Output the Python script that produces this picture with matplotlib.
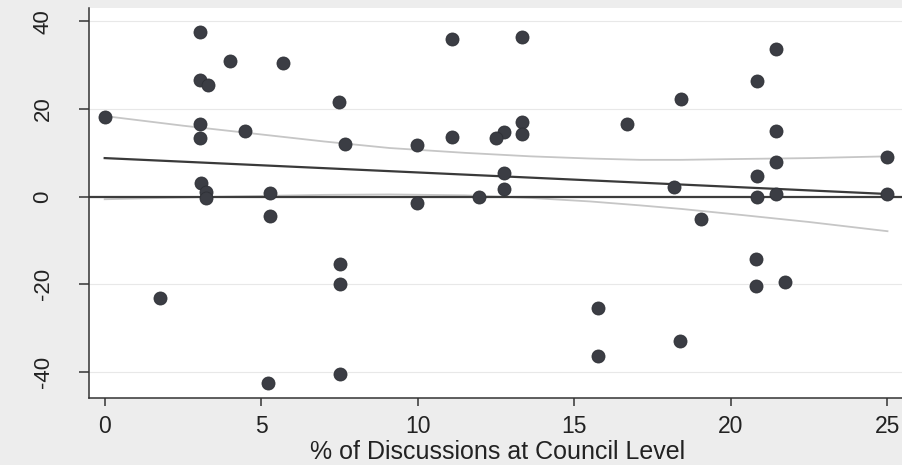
import numpy as np
import matplotlib.pyplot as plt

plt.rcParams['font.family'] = ['Liberation Sans', 'DejaVu Sans']
plt.rcParams['axes.unicode_minus'] = False

# scatter points
x_pct = [0.0, 3.04, 3.04, 3.3, 4.0, 5.7, 3.04, 3.04, 4.49, 3.07, 3.25, 3.25,
         5.27, 5.27, 7.47, 7.66, 9.97, 9.97, 11.09, 11.1, 13.33, 21.43, 20.82,
         18.4, 16.67, 21.43, 13.34, 13.34, 12.76, 12.49, 12.76, 12.76, 11.97,
         18.18, 19.03, 20.82, 20.82, 21.43, 21.43, 25.0, 25.0, 1.76, 7.5, 7.5,
         7.5, 5.22, 20.8, 20.8, 21.73, 15.77, 15.77, 18.37]
y_val = [18.2, 37.5, 26.7, 25.6, 30.9, 30.6, 16.7, 13.3, 15.1, 3.0, 1.0, -0.4,
         0.8, -4.5, 21.7, 12.1, 11.9, -1.5, 35.9, 13.6, 36.5, 33.8, 26.3,
         22.4, 16.5, 14.9, 17.1, 14.3, 14.7, 13.3, 5.3, 1.7, 0.0,
         2.1, -5.2, 4.7, 0.0, 7.9, 0.5, 9.0, 0.5, -23.1, -15.5, -19.9,
         -40.5, -42.6, -14.2, -20.5, -19.6, -25.4, -36.5, -32.9]

# fitted line and confidence band
fit_x = [0, 25]
fit_y = [8.8, 0.6]
band_x = [0, 2.5, 4.5, 7, 9.1, 11.5, 13.6, 15.5, 17.1, 18.4, 20.35, 22.5, 25]
band_hi = [18.4, 16.2, 14.6, 12.6, 11.1, 10.0, 9.2, 8.7, 8.4, 8.4, 8.6, 8.8, 9.2]
band_lo = [-0.6, -0.2, 0.1, 0.4, 0.5, 0.3, -0.3, -1.1, -2.0, -2.8, -4.2, -5.8, -7.9]

x_ticks = [0, 5, 10, 15, 20, 25]
y_ticks = [-40, -20, 0, 20, 40]


def main():
    fig = plt.figure(figsize=(9.02, 4.65), dpi=100, facecolor='#ededed')
    ax = fig.add_axes([0.0987, 0.144, 0.905, 0.839])
    ax.set_facecolor('white')

    for g in [-40, -20, 20, 40]:
        ax.axhline(g, color='#e8e8e8', lw=0.8, zorder=0)

    ax.plot(band_x, band_hi, color='#c6c6c6', lw=1.3, zorder=1)
    ax.plot(band_x, band_lo, color='#c6c6c6', lw=1.3, zorder=1)
    ax.axhline(0, color='#3c3c3c', lw=1.6, zorder=2)
    ax.plot(fit_x, fit_y, color='#3a3a3a', lw=1.6, zorder=2)

    ax.scatter(x_pct, y_val, s=88, color='#3b3d44', edgecolors='#2e3036',
               linewidths=0.6, zorder=3)

    ax.set_xlim(-0.5, 25.57)
    ax.set_ylim(-46.0, 43.1)
    ax.set_xticks(x_ticks)
    ax.set_yticks(y_ticks)

    for side in ['top', 'right']:
        ax.spines[side].set_visible(False)
    for side in ['left', 'bottom']:
        ax.spines[side].set_linewidth(1.1)
        ax.spines[side].set_color('#333333')

    ax.tick_params(axis='x', length=6, width=1.1, color='#333333',
                   labelsize=16.5, pad=6, labelcolor='#222222')
    ax.tick_params(axis='y', length=7.5, width=1.1, color='#333333',
                   labelsize=16, pad=18, labelcolor='#222222')
    for lab in ax.get_yticklabels():
        lab.set_rotation(90)
        lab.set_va('center')

    ax.set_xlabel('% of Discussions at Council Level', fontsize=18,
                  color='#222222', labelpad=2)

    fig.savefig('out.png', dpi=100, facecolor=fig.get_facecolor())
    plt.close(fig)


if __name__ == '__main__':
    main()
